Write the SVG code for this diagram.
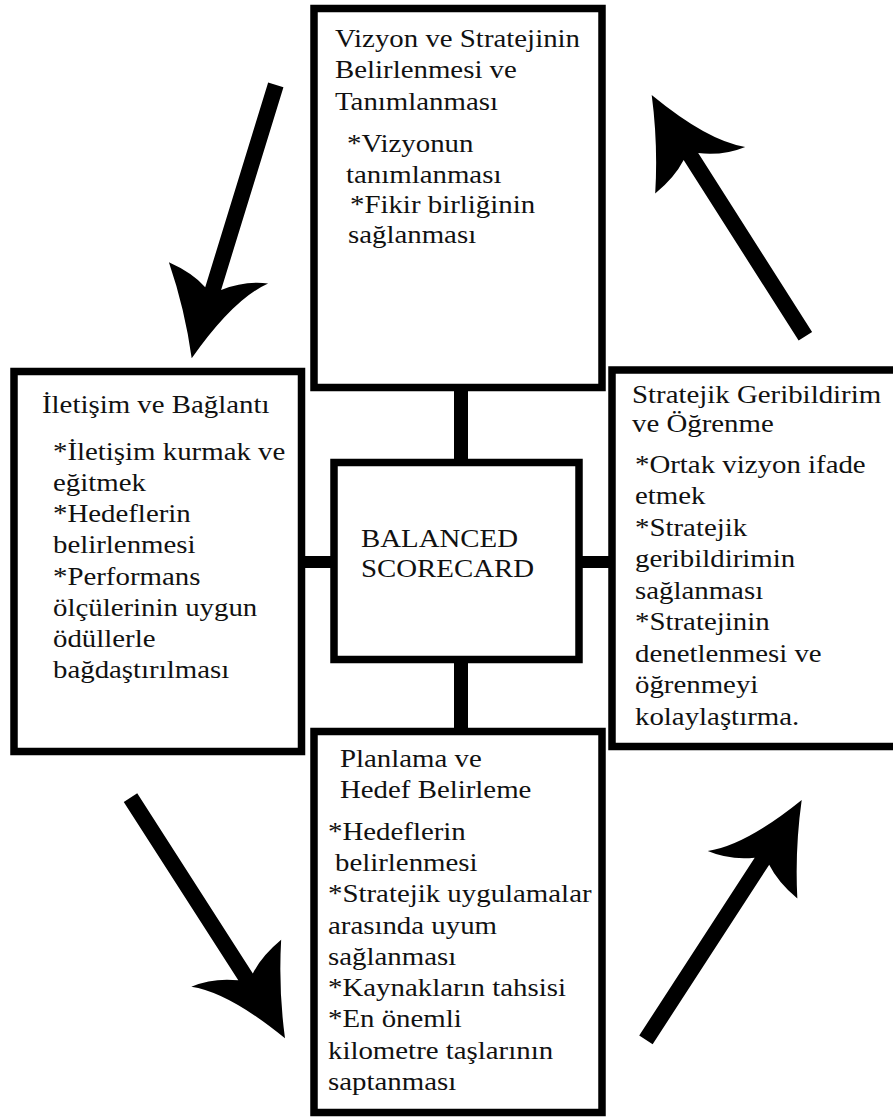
<svg xmlns="http://www.w3.org/2000/svg" width="893" height="1117" viewBox="0 0 893 1117">
  <style>
    .box { fill: #ffffff; stroke: #000000; stroke-width: 7.5; }
    .bar { fill: #000000; }
    .txt { font-family: "Liberation Serif", "Times New Roman", serif; font-size: 26px; fill: #111111; }
    .arrow { fill: #000000; }
  </style>
  <defs>
    <!-- swoosh-headed arrow, tip at the origin, pointing along +y -->
    <path id="arrowA" d="M 0 0 Q 21 -45 50 -85 Q 25 -82 8 -72 L 8 -286 L -8 -286 L -8 -74 Q -28 -90 -51 -94 Q -22.5 -69 0 0 Z"/>
  </defs>

  <rect x="0" y="0" width="893" height="1117" fill="#ffffff"/>

  <!-- connectors -->
  <g id="connectors">
    <rect class="bar" x="454" y="390" width="14" height="70"/>
    <rect class="bar" x="454" y="662" width="14" height="67"/>
    <rect class="bar" x="304" y="556" width="28" height="12"/>
    <rect class="bar" x="581" y="556" width="29" height="12"/>
    <use href="#arrowA" class="arrow" transform="translate(191.7,358.3) rotate(17.1) scale(-1,1)"/>
    <use href="#arrowA" class="arrow" transform="translate(651.7,95) rotate(147.5)"/>
    <use href="#arrowA" class="arrow" transform="translate(285,1038.3) rotate(-32.7)"/>
    <use href="#arrowA" class="arrow" transform="translate(801.7,800) rotate(-147) scale(-1,1)"/>
  </g>

  <!-- Vizyon ve Strateji -->
  <g id="node-vizyon">
    <rect class="box" x="314" y="8.5" width="288" height="379"/>
    <text class="txt" transform="translate(335,0) scale(1.11,1)">
      <tspan x="0" y="47">Vizyon ve Stratejinin</tspan>
      <tspan x="0" y="78">Belirlenmesi ve</tspan>
      <tspan x="0" y="110">Tanımlanması</tspan>
      <tspan x="10.8" y="152">*Vizyonun</tspan>
      <tspan x="9.9" y="183">tanımlanması</tspan>
      <tspan x="13.5" y="213">*Fikir birliğinin</tspan>
      <tspan x="11.7" y="243">sağlanması</tspan>
    </text>
  </g>

  <!-- İletişim ve Bağlantı -->
  <g id="node-iletisim">
    <rect class="box" x="14" y="371.5" width="287.5" height="380"/>
    <text class="txt" transform="translate(42,0) scale(1.11,1)">
      <tspan x="0" y="413">İletişim ve Bağlantı</tspan>
      <tspan x="9.9" y="460">*İletişim kurmak ve</tspan>
      <tspan x="9.9" y="491">eğitmek</tspan>
      <tspan x="9.9" y="522">*Hedeflerin</tspan>
      <tspan x="9.9" y="553.5">belirlenmesi</tspan>
      <tspan x="9.9" y="585">*Performans</tspan>
      <tspan x="9.9" y="616">ölçülerinin uygun</tspan>
      <tspan x="9.9" y="647">ödüllerle</tspan>
      <tspan x="9.9" y="678">bağdaştırılması</tspan>
    </text>
  </g>

  <!-- Balanced Scorecard -->
  <g id="node-bsc">
    <rect class="box" x="334" y="462.5" width="245" height="197"/>
    <text class="txt" transform="translate(361,0) scale(1.11,1)">
      <tspan x="0" y="547">BALANCED</tspan>
      <tspan x="0" y="577">SCORECARD</tspan>
    </text>
  </g>

  <!-- Stratejik Geribildirim ve Öğrenme -->
  <g id="node-geribildirim">
    <rect class="box" x="612" y="370" width="300" height="376.5"/>
    <text class="txt" transform="translate(632,0) scale(1.11,1)">
      <tspan x="0" y="403">Stratejik Geribildirim</tspan>
      <tspan x="0" y="432">ve Öğrenme</tspan>
      <tspan x="2.7" y="473">*Ortak vizyon ifade</tspan>
      <tspan x="2.7" y="504.5">etmek</tspan>
      <tspan x="2.7" y="536">*Stratejik</tspan>
      <tspan x="2.7" y="567.5">geribildirimin</tspan>
      <tspan x="2.7" y="599">sağlanması</tspan>
      <tspan x="2.7" y="630.5">*Stratejinin</tspan>
      <tspan x="2.7" y="662">denetlenmesi ve</tspan>
      <tspan x="2.7" y="693.5">öğrenmeyi</tspan>
      <tspan x="2.7" y="725">kolaylaştırma.</tspan>
    </text>
  </g>

  <!-- Planlama ve Hedef Belirleme -->
  <g id="node-planlama">
    <rect class="box" x="314" y="731.5" width="288" height="381"/>
    <text class="txt" transform="translate(328,0) scale(1.11,1)">
      <tspan x="10.8" y="767">Planlama ve</tspan>
      <tspan x="10.8" y="798">Hedef Belirleme</tspan>
      <tspan x="0" y="840">*Hedeflerin</tspan>
      <tspan x="6.3" y="871">belirlenmesi</tspan>
      <tspan x="0" y="902.5">*Stratejik uygulamalar</tspan>
      <tspan x="0" y="934">arasında uyum</tspan>
      <tspan x="0" y="965">sağlanması</tspan>
      <tspan x="0" y="996">*Kaynakların tahsisi</tspan>
      <tspan x="0" y="1027.5">*En önemli</tspan>
      <tspan x="0" y="1059">kilometre taşlarının</tspan>
      <tspan x="0" y="1090">saptanması</tspan>
    </text>
  </g>
</svg>
